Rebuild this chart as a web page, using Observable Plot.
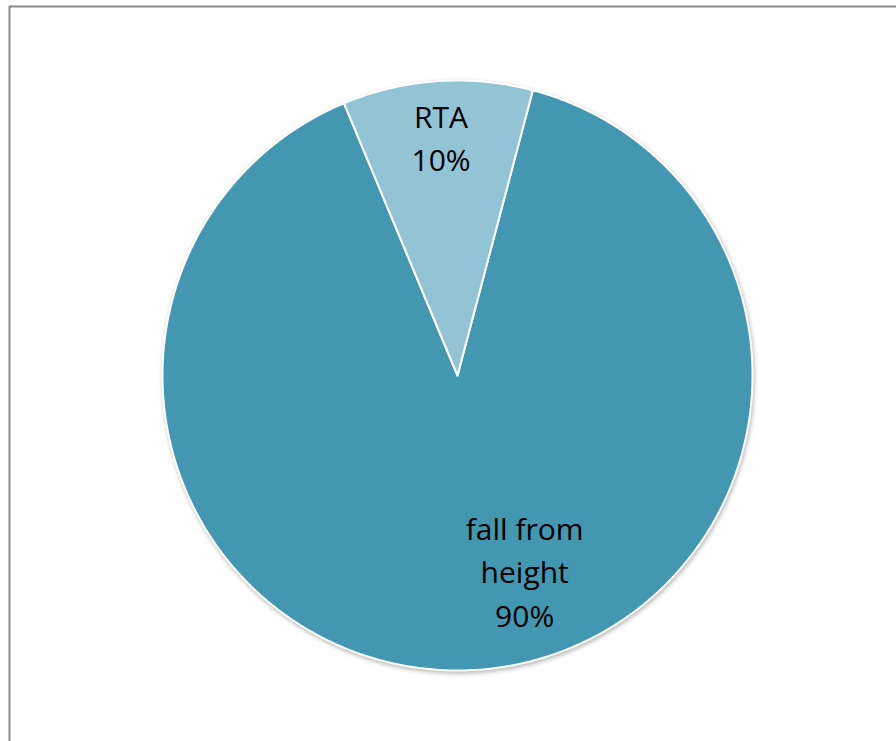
<!DOCTYPE html>
<html>
<head>
<meta charset="utf-8">
<script src="https://cdn.jsdelivr.net/npm/d3@7"></script>
<script src="https://cdn.jsdelivr.net/npm/@observablehq/plot@0.6"></script>
<style>
  html, body { margin: 0; padding: 0; background: #fff; overflow: hidden; }
  #chart svg { overflow: visible; }
  #chart g[aria-label="line"] { filter: drop-shadow(1px 2px 2px rgba(0,0,0,0.28)); }
</style>
</head>
<body>
<div id="chart"></div>
<script>
// ---- data ----
const categories = ["fall from height", "RTA"];
const values = [89.6, 10.4];
const colors = ["#4397b0", "#93c4d5"];
const labelText = ["fall from\nheight", "RTA"];

// ---- layout ----
const W = 896, H = 741;
const cx = 457, cy = 375, R = 295;
const start = 14.8 * Math.PI / 180;

const arcs = d3.pie().sort(null).startAngle(start).endAngle(start + 2 * Math.PI)(values);

const polar = (a, r) => ({ x: cx + r * Math.sin(a), y: cy - r * Math.cos(a) });

const slicePts = [];
arcs.forEach((a, i) => {
  const n = Math.max(8, Math.ceil((a.endAngle - a.startAngle) / (Math.PI / 360)));
  slicePts.push({ ...polar(0, 0), cat: categories[i] });
  for (let k = 0; k <= n; k++) {
    const t = a.startAngle + (a.endAngle - a.startAngle) * k / n;
    slicePts.push({ ...polar(t, R), cat: categories[i] });
  }
  slicePts.push({ ...polar(0, 0), cat: categories[i] });
});

// label anchors (Excel "best fit"-like placement)
const labels = arcs.map((a, i) => {
  const mid = (a.startAngle + a.endAngle) / 2;
  const big = (a.endAngle - a.startAngle) > Math.PI;
  const ang = big ? mid - 15.2 * Math.PI / 180 : mid;
  const r = big ? 0.695 * R : 0.815 * R;
  const p = polar(ang, r);
  return { ...p, text: labelText[i] + "\n" + Math.round(values[i]) + "%" };
});

const chart = Plot.plot({
  width: W,
  height: H,
  margin: 0,
  x: { domain: [0, W], range: [0, W], axis: null },
  y: { domain: [0, H], range: [0, H], axis: null },
  color: { domain: categories, range: colors },
  style: { fontFamily: "'Open Sans', sans-serif", background: "white" },
  marks: [
    Plot.frame({ stroke: "#8c8c8c", strokeWidth: 2, insetLeft: 9, insetTop: 6, insetRight: -10, insetBottom: -10 }),
    Plot.line(slicePts, { x: "x", y: "y", z: "cat", fill: "cat", stroke: "white", strokeWidth: 2, strokeLinejoin: "round", curve: "linear" }),
    Plot.text(labels, { x: "x", y: "y", text: "text", fontSize: 30, lineHeight: 1.45, fill: "black", textAnchor: "middle" })
  ]
});
document.getElementById("chart").appendChild(chart);
</script>
</body>
</html>
